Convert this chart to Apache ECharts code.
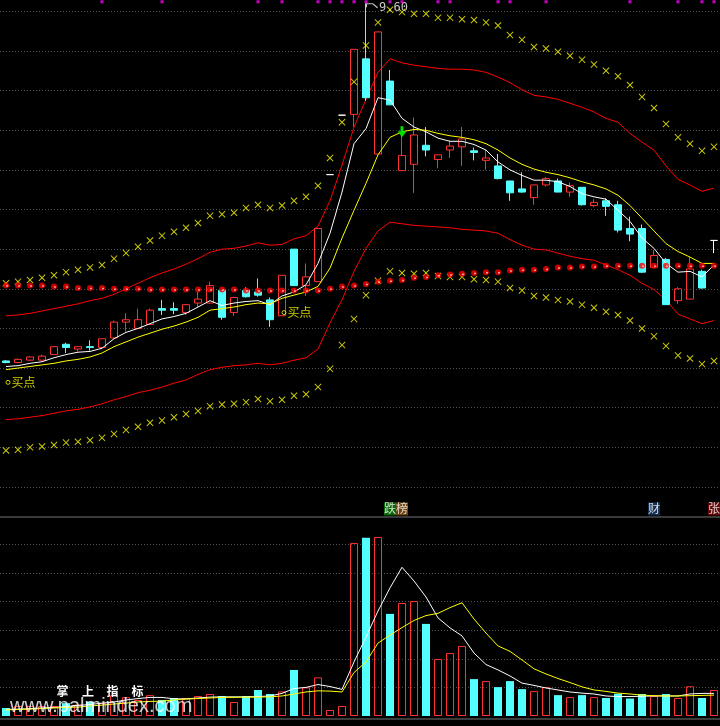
<!DOCTYPE html>
<html><head><meta charset="utf-8">
<script src="https://cdn.jsdelivr.net/npm/echarts@6/dist/echarts.min.js"></script>
<style>html,body{margin:0;padding:0;background:#000;}#c{width:720px;height:726px;}</style>
</head><body><div id="c"></div>
<script>
// ---- candles (price) ----
const opens  = [5.09,5.07,5.10,5.10,5.17,5.30,5.24,5.27,5.26,5.38,5.58,5.50,5.55,5.75,5.75,5.70,5.82,5.82,5.98,5.70,5.98,5.96,5.86,5.66,6.50,6.04,6.09,7.44,8.19,8.20,8.90,7.70,8.62,7.49,7.57,7.81,7.63,7.75,7.79,7.74,7.62,7.55,7.36,7.26,7.15,7.31,7.36,7.22,7.28,7.05,7.11,7.06,6.76,6.76,6.27,6.37,5.85,5.87,6.22,6.61];
const closes = [5.07,5.11,5.14,5.15,5.27,5.26,5.27,5.26,5.37,5.58,5.61,5.61,5.73,5.73,5.73,5.80,5.87,6.04,5.64,5.89,5.90,5.92,5.61,6.17,6.04,6.15,6.76,7.44,8.19,9.02,8.41,9.24,8.32,7.68,7.94,7.75,7.69,7.80,7.89,7.72,7.65,7.39,7.21,7.22,7.31,7.39,7.22,7.30,7.06,7.09,7.04,6.74,6.69,6.21,6.42,5.80,6.00,6.25,6.01,6.61];
const lows   = [5.06,5.06,5.09,5.10,5.17,5.19,5.21,5.22,5.24,5.38,5.46,5.50,5.55,5.67,5.68,5.67,5.77,5.81,5.61,5.66,5.89,5.90,5.52,5.66,6.04,5.91,6.09,7.44,8.19,8.04,8.37,7.70,8.32,7.49,7.21,7.67,7.52,7.65,7.55,7.62,7.50,7.38,7.11,7.21,7.06,7.29,7.22,7.16,7.05,7.03,6.92,6.71,6.60,6.20,6.26,5.80,5.81,5.87,6.00,6.45];
const highs  = [5.10,5.12,5.15,5.17,5.27,5.32,5.27,5.35,5.37,5.60,5.69,5.75,5.75,5.86,5.83,5.81,5.96,6.09,5.98,5.90,6.02,6.13,5.89,6.17,6.50,6.32,6.76,7.44,8.19,9.02,9.60,9.24,8.76,7.93,8.16,8.04,7.69,7.87,8.04,7.78,7.75,7.70,7.36,7.47,7.31,7.41,7.39,7.34,7.28,7.13,7.14,7.11,6.91,6.81,6.49,6.39,6.02,6.40,6.24,6.61];
// ---- main indicator lines ----
const maWhite  = [5.02,5.03,5.06,5.08,5.13,5.17,5.20,5.21,5.25,5.37,5.45,5.50,5.56,5.62,5.65,5.69,5.77,5.85,5.79,5.82,5.84,5.85,5.80,5.91,5.96,6.05,6.32,6.70,7.22,7.83,8.02,8.41,8.38,8.15,8.04,7.98,7.90,7.86,7.86,7.82,7.75,7.60,7.50,7.43,7.37,7.37,7.35,7.29,7.20,7.16,7.13,6.99,6.85,6.64,6.51,6.32,6.21,6.22,6.15,6.30];
const maYellow = [4.98,5.00,5.02,5.04,5.06,5.09,5.11,5.14,5.19,5.27,5.33,5.39,5.44,5.49,5.53,5.58,5.64,5.73,5.75,5.77,5.80,5.82,5.81,5.88,5.92,5.96,6.03,6.26,6.64,6.99,7.33,7.69,7.91,7.98,8.01,8.00,7.96,7.93,7.91,7.88,7.83,7.75,7.65,7.57,7.51,7.47,7.44,7.40,7.35,7.31,7.26,7.18,7.05,6.89,6.73,6.57,6.47,6.40,6.32,6.32];
const bandUpper = [5.66,5.67,5.69,5.72,5.75,5.78,5.81,5.85,5.88,5.93,6.00,6.07,6.14,6.20,6.25,6.31,6.38,6.46,6.50,6.51,6.54,6.58,6.55,6.56,6.63,6.67,6.79,7.11,7.56,8.04,8.39,8.73,8.90,8.85,8.82,8.80,8.78,8.77,8.77,8.76,8.73,8.67,8.60,8.51,8.44,8.42,8.39,8.34,8.29,8.23,8.15,8.10,7.96,7.85,7.75,7.55,7.38,7.31,7.23,7.27];
const bandLower = [4.35,4.36,4.38,4.40,4.43,4.46,4.48,4.51,4.55,4.60,4.64,4.69,4.72,4.76,4.81,4.85,4.92,4.98,5.01,5.03,5.04,5.06,5.04,5.06,5.10,5.13,5.24,5.57,5.86,6.22,6.51,6.73,6.84,6.82,6.80,6.79,6.78,6.77,6.75,6.74,6.73,6.70,6.62,6.55,6.50,6.49,6.45,6.41,6.38,6.36,6.30,6.24,6.17,6.07,5.99,5.86,5.68,5.62,5.56,5.60];
const crossUpper = [6.07,6.09,6.11,6.14,6.17,6.21,6.24,6.27,6.30,6.38,6.45,6.53,6.61,6.67,6.72,6.77,6.83,6.92,6.94,6.96,7.02,7.06,7.02,7.05,7.11,7.16,7.30,7.65,8.10,8.61,9.07,9.36,9.52,9.49,9.47,9.47,9.42,9.42,9.40,9.39,9.36,9.32,9.20,9.14,9.05,9.03,8.99,8.94,8.89,8.83,8.75,8.68,8.57,8.42,8.28,8.08,7.91,7.83,7.74,7.79];
const crossLower = [3.96,3.97,4.00,4.01,4.03,4.06,4.07,4.09,4.12,4.17,4.22,4.26,4.31,4.34,4.38,4.42,4.46,4.52,4.54,4.55,4.57,4.61,4.58,4.60,4.65,4.67,4.76,4.99,5.29,5.62,5.92,6.10,6.22,6.20,6.19,6.20,6.16,6.15,6.15,6.12,6.11,6.09,6.01,5.98,5.91,5.89,5.86,5.84,5.80,5.76,5.71,5.67,5.60,5.50,5.40,5.28,5.16,5.12,5.05,5.09];
const redDots = [6.04,6.04,6.04,6.04,6.03,6.03,6.01,6.01,6.01,6.00,6.00,6.00,5.99,5.99,5.99,5.99,5.99,5.99,5.99,5.99,5.98,5.98,5.98,5.98,5.98,5.98,5.98,6.00,6.03,6.04,6.06,6.09,6.10,6.11,6.14,6.15,6.17,6.18,6.19,6.20,6.21,6.21,6.23,6.24,6.24,6.25,6.27,6.27,6.28,6.28,6.29,6.29,6.29,6.29,6.29,6.29,6.29,6.29,6.29,6.29];
const topMarkIdx = [8,13,21,23,26,27,28,29,30,32,33,36,37,41,42,45,52,56,58,59];
const topMarkLevel = 9.62;
const buyIdx = [0, 23];
const buyLevel = [4.82, 5.70];
const buyText = '买点';
const sellIdx = 33, sellLevel = 7.98;
const peakIdx = 30, peakValue = 9.60;
// ---- volume ----
const vols = [0.28,0.35,0.35,0.35,0.35,0.45,0.40,0.50,0.45,0.73,0.66,0.56,0.73,0.56,0.63,0.63,0.70,0.77,0.70,0.49,0.70,0.91,0.77,0.86,1.61,1.00,1.35,0.21,0.35,6.05,6.23,6.26,3.57,3.95,4.02,3.22,1.99,2.20,2.45,1.29,1.22,1.01,1.22,0.94,0.87,1.01,0.73,0.66,0.73,0.66,0.63,0.78,0.61,0.77,0.70,0.77,0.63,1.04,0.63,0.91];
const volMaWhite  = [0.23,0.24,0.26,0.28,0.30,0.33,0.37,0.40,0.45,0.49,0.56,0.61,0.65,0.65,0.60,0.60,0.63,0.66,0.67,0.67,0.67,0.68,0.70,0.79,0.96,1.00,1.10,1.03,0.93,1.89,2.76,3.67,4.48,5.20,4.72,4.16,3.43,3.08,2.80,2.20,1.80,1.61,1.40,1.15,1.07,0.98,0.91,0.84,0.80,0.77,0.70,0.68,0.68,0.69,0.70,0.70,0.70,0.77,0.79,0.79];
const volMaYellow = [0.21,0.23,0.24,0.26,0.28,0.30,0.31,0.35,0.38,0.42,0.45,0.49,0.51,0.52,0.56,0.59,0.61,0.63,0.65,0.65,0.66,0.66,0.67,0.70,0.77,0.84,0.88,0.87,0.84,1.52,1.89,2.55,2.83,3.09,3.34,3.51,3.59,3.79,3.96,3.39,2.90,2.45,2.26,1.96,1.65,1.47,1.31,1.17,1.02,0.91,0.86,0.80,0.77,0.73,0.71,0.70,0.70,0.71,0.72,0.73];
const tagIdx   = [32, 33, 54, 59];
const tagText  = ['跌', '榜', '财', '张'];
const tagColor = ['#0a820a', '#8a5214', '#173b66', '#7a0a0a'];
const tagLevel = 7.24;

const N = opens.length;
const categories = opens.map((_, i) => String(i + 1));
const UP = '#ff3232', DOWN = '#54ffff';
const CJK = '"Noto Sans CJK SC", sans-serif';

const candleData = opens.map((o, i) => [o, closes[i], lows[i], highs[i]]);
const volData = vols.map((v, i) => ({
  value: v,
  itemStyle: closes[i] >= opens[i]
    ? { color: 'rgba(0,0,0,0)', borderColor: UP, borderWidth: 1 }
    : { color: DOWN, borderColor: DOWN, borderWidth: 0 }
}));
const xPath = 'path://M0,1 L1,0 L5,4 L9,0 L10,1 L6,5 L10,9 L9,10 L5,6 L1,10 L0,9 L4,5 Z';
const gridLine = { show: true, showMaxLine: false, lineStyle: { color: '#505050', type: [1, 2], width: 1 } };

const option = {
  backgroundColor: '#000',
  animation: false,
  grid: [
    { left: -7, width: 730, top: 0, height: 487 },
    { left: -7, width: 730, top: 530, height: 186 }
  ],
  xAxis: [
    { type: 'category', data: categories, gridIndex: 0, show: false, boundaryGap: true },
    { type: 'category', data: categories, gridIndex: 1, show: false, boundaryGap: true }
  ],
  yAxis: [
    { type: 'value', gridIndex: 0, min: 3.5, max: 9.6425, interval: 0.5, scale: true,
      axisLine: { show: false }, axisTick: { show: false }, axisLabel: { show: false }, splitLine: gridLine },
    { type: 'value', gridIndex: 1, min: 0, max: 6.503, interval: 1,
      axisLine: { show: false }, axisTick: { show: false }, axisLabel: { show: false },
      splitLine: Object.assign({}, gridLine, { showMinLine: false }) }
  ],
  series: [
    { type: 'line', data: bandUpper, symbol: 'none', lineStyle: { color: '#ff0000', width: 1 }, z: 2 },
    { type: 'line', data: bandLower, symbol: 'none', lineStyle: { color: '#ff0000', width: 1 }, z: 2 },
    { type: 'candlestick', data: candleData, barWidth: 8, z: 3,
      itemStyle: { color: 'rgba(0,0,0,0)', color0: DOWN, borderColor: UP, borderColor0: DOWN, borderColorDoji: '#ffffff', borderWidth: 1 },
      markPoint: {
        data: [
          { coord: [peakIdx, peakValue], symbol: 'path://M0,0 L7,0 L12,4 L11,5 L6.5,1 L1,1 L1,4 L0,4 Z', symbolSize: [12, 5], symbolOffset: [6, 2.5],
            itemStyle: { color: '#c0c0c0' },
            label: { show: true, formatter: String(peakValue.toFixed(2)), position: 'right', distance: 1, color: '#c8c8c8', fontSize: 12, fontFamily: 'DejaVu Sans Mono', offset: [0, 2] } },
          { coord: [sellIdx, sellLevel], symbol: 'path://M3,0 L6,0 L6,5 L9,5 L4.5,11 L0,5 L3,5 Z', symbolSize: [9, 11],
            itemStyle: { color: '#00e000' }, label: { show: false } }
        ]
      }
    },
    { type: 'line', data: maWhite, symbol: 'none', lineStyle: { color: '#ffffff', width: 1 }, z: 4 },
    { type: 'line', data: maYellow, symbol: 'none', lineStyle: { color: '#ffff00', width: 1 }, z: 4 },
    { type: 'scatter', data: crossUpper, symbol: xPath, symbolSize: 7, itemStyle: { color: '#ffff00' }, z: 5 },
    { type: 'scatter', data: crossLower, symbol: xPath, symbolSize: 7, itemStyle: { color: '#ffff00' }, z: 5 },
    { type: 'scatter', data: redDots, symbol: 'circle', symbolSize: 6, itemStyle: { color: '#ff0000' }, z: 6 },
    { type: 'scatter', data: redDots, symbol: 'rect', symbolSize: 1.5, symbolOffset: [1, 0.5], itemStyle: { color: '#ffffff' }, z: 7 },
    { type: 'scatter', data: topMarkIdx.map(i => [i, topMarkLevel]), symbol: 'rect', symbolSize: 3, itemStyle: { color: '#ff00ff' }, z: 6 },
    { type: 'scatter', data: buyIdx.map((i, k) => [i, buyLevel[k]]), symbol: 'circle', symbolSize: 4, symbolOffset: [2, 0],
      itemStyle: { color: 'rgba(0,0,0,0)', borderColor: '#ffff00', borderWidth: 1 }, z: 7,
      label: { show: true, formatter: buyText, position: 'right', distance: 1, color: '#ffff00', fontSize: 12, fontFamily: CJK } },
    // volume
    { type: 'bar', data: volData, xAxisIndex: 1, yAxisIndex: 1, barWidth: 8, z: 2 },
    { type: 'line', data: volMaWhite, xAxisIndex: 1, yAxisIndex: 1, symbol: 'none', lineStyle: { color: '#ffffff', width: 1 }, z: 4 },
    { type: 'line', data: volMaYellow, xAxisIndex: 1, yAxisIndex: 1, symbol: 'none', lineStyle: { color: '#ffff00', width: 1 }, z: 4 },
    { type: 'scatter', xAxisIndex: 1, yAxisIndex: 1, clip: false, symbolSize: 1, itemStyle: { color: 'rgba(0,0,0,0)' }, z: 8,
      data: tagIdx.map((i, k) => ({ value: [i, tagLevel],
        label: { show: true, formatter: tagText[k], position: 'inside', color: '#ffffff', fontSize: 12, fontFamily: CJK,
                 backgroundColor: tagColor[k], padding: [0, 0], lineHeight: 13 } })) }
  ],
  graphic: [
    { type: 'line', shape: { x1: 0, y1: 517, x2: 720, y2: 517 }, style: { stroke: '#3a3a3a', lineWidth: 2 }, z: 1 },
    { type: 'line', shape: { x1: 0, y1: 719, x2: 720, y2: 719 }, style: { stroke: '#3a3a3a', lineWidth: 2 }, z: 1 },
    { type: 'text', x: 62.5, y: 691.5, z: 100, style: { text: '掌', fill: '#ffffff', font: 'bold 12px "Noto Sans CJK SC"', align: 'center', verticalAlign: 'middle' } },
    { type: 'text', x: 88, y: 691.5, z: 100, style: { text: '上', fill: '#ffffff', font: 'bold 12px "Noto Sans CJK SC"', align: 'center', verticalAlign: 'middle' } },
    { type: 'text', x: 112.5, y: 691.5, z: 100, style: { text: '指', fill: '#ffffff', font: 'bold 12px "Noto Sans CJK SC"', align: 'center', verticalAlign: 'middle' } },
    { type: 'text', x: 137.5, y: 691.5, z: 100, style: { text: '标', fill: '#ffffff', font: 'bold 12px "Noto Sans CJK SC"', align: 'center', verticalAlign: 'middle' } },
    { type: 'text', x: 10, y: 706, z: 100, style: { text: 'www.palmindex.com', fill: 'rgba(255,255,255,0.8)', font: '20px "Liberation Sans"', align: 'left', verticalAlign: 'middle' } }
  ]
};
const chart = echarts.init(document.getElementById('c'));
chart.setOption(option);
</script></body></html>
